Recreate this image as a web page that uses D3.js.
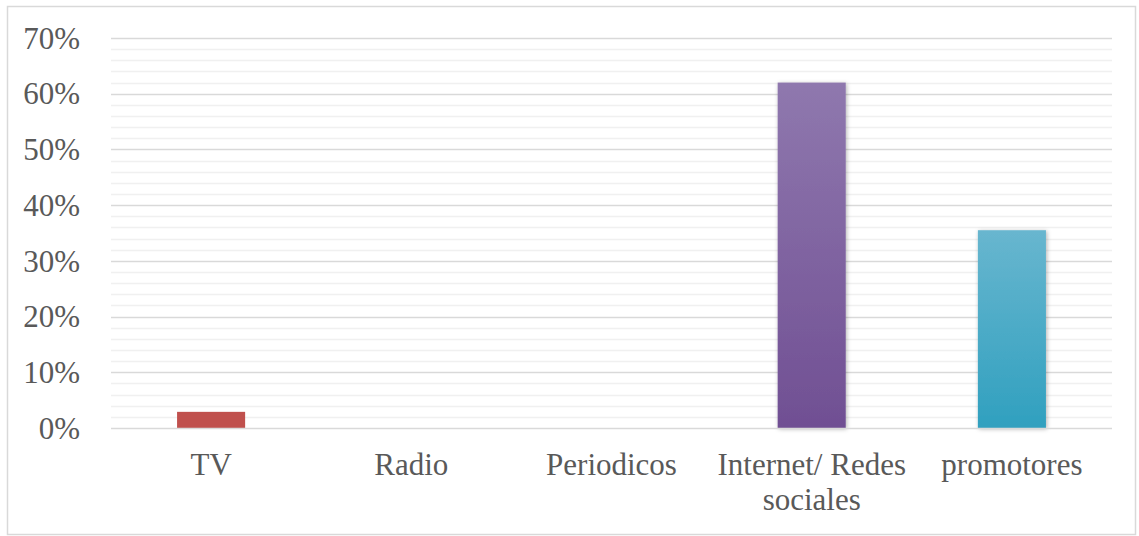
<!DOCTYPE html>
<html>
<head>
<meta charset="utf-8">
<script src="https://cdn.jsdelivr.net/npm/d3@7"></script>
<style>
  html, body { margin: 0; padding: 0; background: #fff; }
  svg { display: block; }
  svg text { font-family: "Liberation Serif", "DejaVu Serif", serif; }
</style>
</head>
<body>
<svg id="chart" width="1139" height="536"></svg>
<script>
// Media channel shares
const categories = ["TV", "Radio", "Periodicos", "Internet/ Redes sociales", "promotores"];
const values = [0.029, 0, 0, 0.62, 0.355];
const tickValues = [0, 0.1, 0.2, 0.3, 0.4, 0.5, 0.6, 0.7];
const minorTicks = d3.range(0, 0.7001, 0.02);
const barColors = [
  ["#c0504d", "#c0504d"],
  ["#4f81bd", "#4f81bd"],
  ["#9bbb59", "#9bbb59"],
  ["#8f78ae", "#704f93"],
  ["#68b6cf", "#30a0bf"]
];

const svg = d3.select("#chart");
const plot = { left: 111, right: 1112, top: 38, bottom: 428 };
const textColor = "#595959";
const font = "Liberation Serif";
const fontSize = 31;

// Outer frame
svg.append("rect")
  .attr("x", 7.5).attr("y", 6.5)
  .attr("width", 1128).attr("height", 528)
  .attr("fill", "#fff").attr("stroke", "#d9d9d9").attr("stroke-width", 1.5);

const x = d3.scaleBand().domain(categories).range([plot.left, plot.right]).paddingInner(0.66).paddingOuter(0.33);
const y = d3.scaleLinear().domain([0, 0.7]).range([plot.bottom, plot.top]);

const defs = svg.append("defs");
barColors.forEach((c, i) => {
  const g = defs.append("linearGradient").attr("id", "grad" + i)
    .attr("x1", 0).attr("y1", 0).attr("x2", 0).attr("y2", 1);
  g.append("stop").attr("offset", "0%").attr("stop-color", c[0]);
  g.append("stop").attr("offset", "100%").attr("stop-color", c[1]);
});
const shadow = defs.append("filter").attr("id", "shadow")
  .attr("x", "-20%").attr("y", "-5%").attr("width", "140%").attr("height", "110%");
shadow.append("feDropShadow").attr("dx", 1).attr("dy", 1).attr("stdDeviation", 2)
  .attr("flood-color", "#000").attr("flood-opacity", 0.3);

// Minor gridlines
svg.append("g").selectAll("line")
  .data(minorTicks.filter(t => Math.round(t * 100) % 10 !== 0))
  .join("line")
  .attr("x1", plot.left).attr("x2", plot.right)
  .attr("y1", d => Math.round(y(d)) + 0.5).attr("y2", d => Math.round(y(d)) + 0.5)
  .attr("stroke", "#f0f0f0").attr("stroke-width", 1.5);

// Major gridlines
svg.append("g").selectAll("line")
  .data(tickValues.filter(t => t > 0))
  .join("line")
  .attr("x1", plot.left).attr("x2", plot.right)
  .attr("y1", d => Math.round(y(d)) + 0.5).attr("y2", d => Math.round(y(d)) + 0.5)
  .attr("stroke", "#d9d9d9").attr("stroke-width", 1.5);

// Bars
svg.append("g").selectAll("rect")
  .data(categories.map((c, i) => ({ c, v: values[i], i })).filter(d => d.v > 0))
  .join("rect")
  .attr("x", d => x(d.c))
  .attr("width", x.bandwidth())
  .attr("y", d => y(d.v))
  .attr("height", d => y(0) - y(d.v))
  .attr("fill", d => `url(#grad${d.i})`)
  .attr("filter", d => d.v > 0.1 ? "url(#shadow)" : null);

// Baseline
svg.append("line")
  .attr("x1", plot.left).attr("x2", plot.right)
  .attr("y1", y(0) + 0.5).attr("y2", y(0) + 0.5)
  .attr("stroke", "#d9d9d9").attr("stroke-width", 1.5);

// Y axis labels
const yAxis = d3.axisLeft(y).tickValues(tickValues).tickFormat(d3.format(".0%")).tickSize(0).tickPadding(0);
const yg = svg.append("g").attr("transform", "translate(80,0)").call(yAxis)
  .attr("font-family", font).attr("font-size", fontSize);
yg.select(".domain").remove();
yg.selectAll("text")
  .attr("fill", textColor)
  .attr("dy", "0.33em");

// X axis labels (wrapped)
const xAxis = d3.axisBottom(x).tickSize(0).tickPadding(0);
const xg = svg.append("g").attr("transform", `translate(0,${plot.bottom})`).call(xAxis)
  .attr("font-family", font).attr("font-size", fontSize);
xg.select(".domain").remove();
xg.selectAll("text").each(function(d) {
  const t = d3.select(this);
  t.text(null).attr("fill", textColor).attr("y", 0).attr("dy", null);
  const lines = d === "Internet/ Redes sociales" ? ["Internet/ Redes", "sociales"] : [d];
  lines.forEach((ln, k) => {
    t.append("tspan").attr("x", 0).attr("y", 47 + k * 35).text(ln);
  });
});
</script>
</body>
</html>
